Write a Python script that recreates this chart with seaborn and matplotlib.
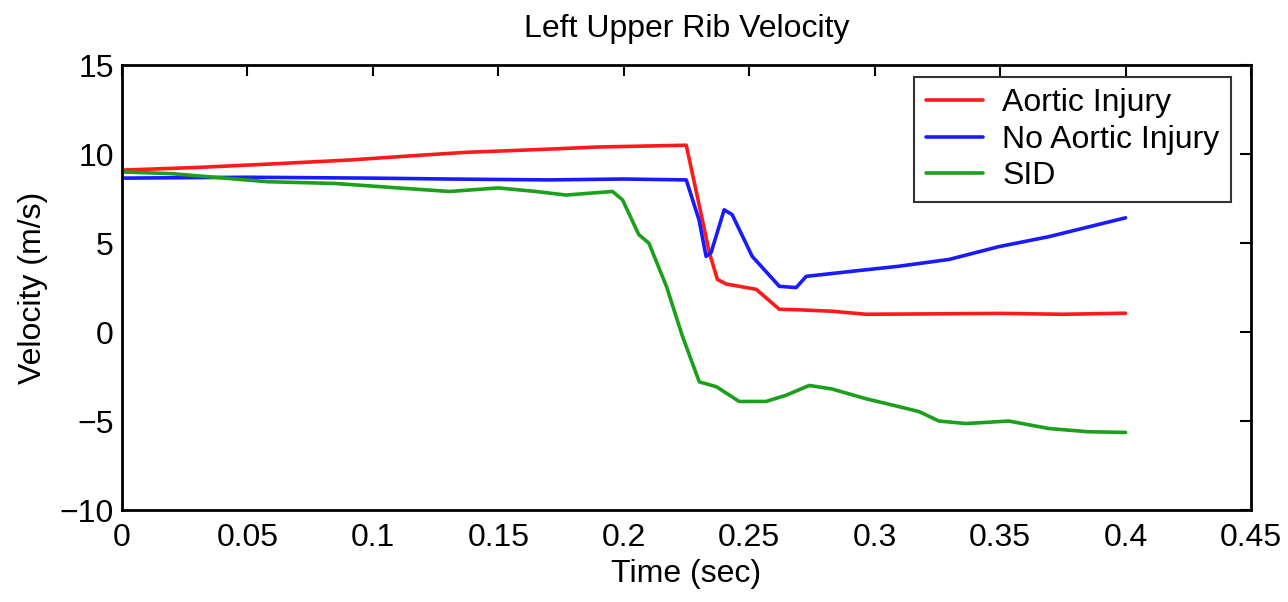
import matplotlib
matplotlib.use("Agg")
import matplotlib.pyplot as plt
import seaborn as sns
import pandas as pd

# values
t_aortic = [0.0, 0.03, 0.06, 0.0908, 0.115, 0.137, 0.165, 0.190, 0.2249, 0.2295, 0.2341, 0.2373,
            0.2408, 0.2528, 0.262, 0.27, 0.283, 0.2966, 0.32, 0.35, 0.375, 0.4]
v_aortic = [9.1, 9.25, 9.45, 9.67, 9.9, 10.1, 10.25, 10.4, 10.5, 7.5, 4.47, 2.96,
            2.7, 2.4, 1.28, 1.25, 1.17, 1.0, 1.02, 1.05, 1.0, 1.06]

t_noaortic = [0.0, 0.05, 0.1, 0.13, 0.17, 0.2, 0.2249, 0.23, 0.2328, 0.2348, 0.24, 0.2432,
              0.2512, 0.262, 0.2687, 0.2727, 0.29, 0.3097, 0.3296, 0.3495, 0.3694, 0.385, 0.4]
v_noaortic = [8.65, 8.7, 8.65, 8.6, 8.55, 8.6, 8.55, 6.3, 4.25, 4.47, 6.87, 6.6,
              4.25, 2.57, 2.5, 3.13, 3.4, 3.7, 4.08, 4.8, 5.36, 5.9, 6.42]

t_sid = [0.0, 0.02, 0.0577, 0.085, 0.11, 0.1306, 0.150, 0.165, 0.177, 0.1955, 0.1995, 0.206,
         0.210, 0.217, 0.2233, 0.2301, 0.2369, 0.246, 0.2567, 0.2647, 0.2739, 0.283, 0.2966,
         0.307, 0.3177, 0.3256, 0.3364, 0.3535, 0.3694, 0.385, 0.4]
v_sid = [9.0, 8.9, 8.45, 8.35, 8.1, 7.9, 8.1, 7.9, 7.7, 7.9, 7.43, 5.47,
         5.0, 2.57, -0.2, -2.8, -3.07, -3.9, -3.9, -3.55, -3.0, -3.2, -3.75,
         -4.1, -4.47, -5.0, -5.14, -5.0, -5.42, -5.6, -5.64]

series_names = ["Aortic Injury", "No Aortic Injury", "SID"]
series_colors = ["#ff1a1a", "#1a1aff", "#1aa01a"]

sns.set_style("white")
plt.rcParams["font.family"] = ["Liberation Sans", "DejaVu Sans"]
plt.rcParams["text.color"] = "black"
plt.rcParams["axes.labelcolor"] = "black"
fs = 23

fig = plt.figure(figsize=(12.88, 6.02), dpi=100)
ax = fig.add_axes([0.0947, 0.1528, 0.8766, 0.739])

data = [(t_aortic, v_aortic), (t_noaortic, v_noaortic), (t_sid, v_sid)]
for (t, v), name, col in zip(data, series_names, series_colors):
    df = pd.DataFrame({"t": t, "v": v})
    sns.lineplot(data=df, x="t", y="v", color=col, linewidth=2.6, label=name, ax=ax)

ax.set_xlim(0, 0.45)
ax.set_ylim(-10, 15)
ax.set_xticks([0, 0.05, 0.1, 0.15, 0.2, 0.25, 0.3, 0.35, 0.4, 0.45])
ax.set_xticklabels(["0", "0.05", "0.1", "0.15", "0.2", "0.25", "0.3", "0.35", "0.4", "0.45"])
ax.set_yticks([-10, -5, 0, 5, 10, 15])
ax.set_yticklabels(["\u221210", "\u22125", "0", "5", "10", "15"])
ax.tick_params(direction="in", length=8, width=1.5, labelsize=fs, top=True, right=True,
               colors="black")
ax.tick_params(axis="x", pad=9)
ax.tick_params(axis="y", pad=6)
for s in ax.spines.values():
    s.set_linewidth(2)
    s.set_color("black")

ax.set_xlabel("Time (sec)", fontsize=fs, labelpad=5)
ax.set_ylabel("Velocity (m/s)", fontsize=fs, labelpad=8)
ax.set_title("Left Upper Rib Velocity", fontsize=fs, pad=20, color="black")

leg = ax.legend(loc="upper right", bbox_to_anchor=(0.982, 0.973), borderaxespad=0,
                fontsize=fs, frameon=True, fancybox=False, handlelength=1.8,
                handletextpad=0.6, labelspacing=0.2, borderpad=0.35)
leg.get_frame().set_edgecolor("black")
leg.get_frame().set_linewidth(1.5)

fig.savefig("out.png", dpi=100)
